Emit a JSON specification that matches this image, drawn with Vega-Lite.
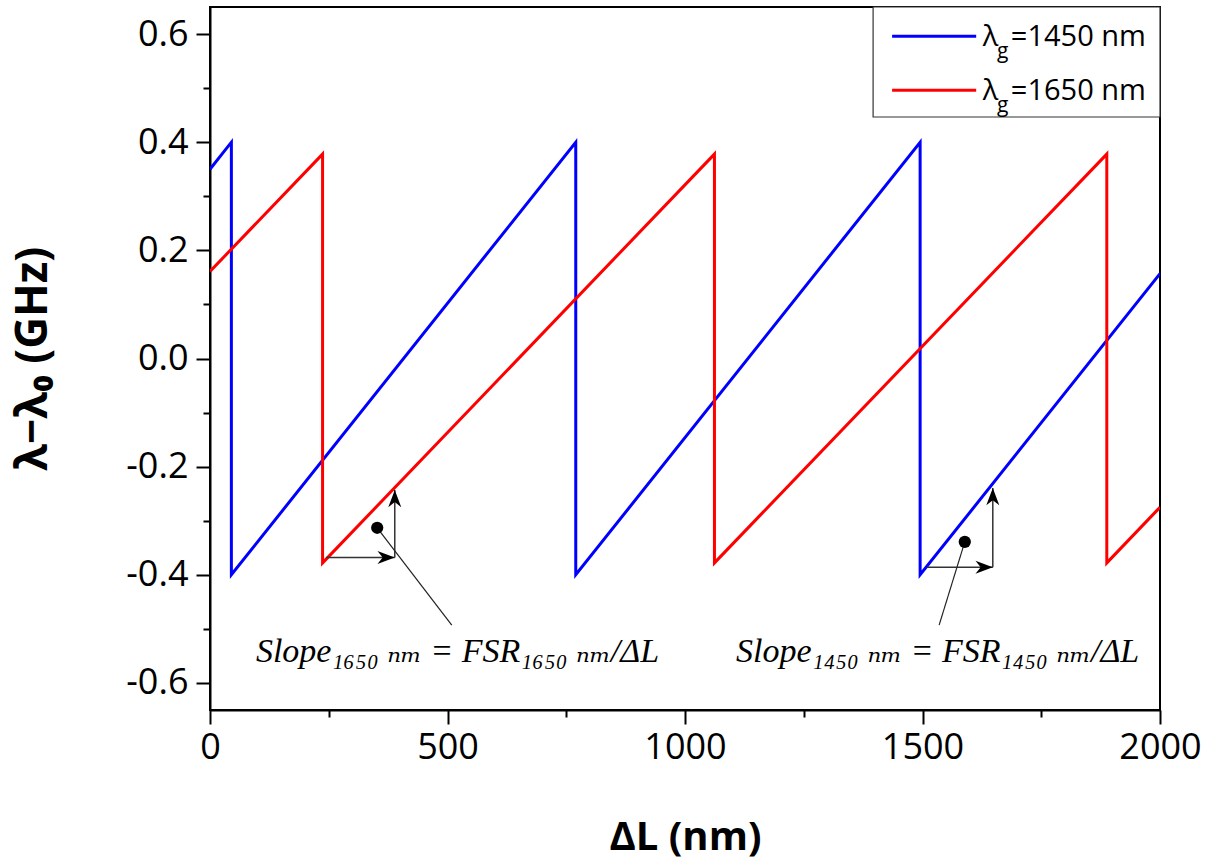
{
  "$schema": "https://vega.github.io/schema/vega-lite/v6.json",
  "width": 950,
  "height": 703,
  "autosize": {"type": "none"},
  "padding": {"left": 210, "top": 7, "right": 57, "bottom": 155},
  "background": "white",
  "config": {
    "view": {"stroke": "black", "strokeWidth": 2},
    "font": "Open Sans"
  },
  "datasets": {
    "lines": [
      {"series": "1450", "i": 0, "x": 0, "y": 0.35},
      {"series": "1450", "i": 1, "x": 45, "y": 0.40},
      {"series": "1450", "i": 2, "x": 45, "y": -0.40},
      {"series": "1450", "i": 3, "x": 770, "y": 0.40},
      {"series": "1450", "i": 4, "x": 770, "y": -0.40},
      {"series": "1450", "i": 5, "x": 1495, "y": 0.40},
      {"series": "1450", "i": 6, "x": 1495, "y": -0.40},
      {"series": "1450", "i": 7, "x": 2000, "y": 0.157},
      {"series": "1650", "i": 0, "x": 0, "y": 0.161},
      {"series": "1650", "i": 1, "x": 237, "y": 0.378},
      {"series": "1650", "i": 2, "x": 237, "y": -0.378},
      {"series": "1650", "i": 3, "x": 1062, "y": 0.378},
      {"series": "1650", "i": 4, "x": 1062, "y": -0.378},
      {"series": "1650", "i": 5, "x": 1888, "y": 0.378},
      {"series": "1650", "i": 6, "x": 1888, "y": -0.378},
      {"series": "1650", "i": 7, "x": 2000, "y": -0.275}
    ],
    "arrows": [
      {"x": 244, "y": -0.368, "x2": 389, "y2": -0.368},
      {"x": 389, "y": -0.368, "x2": 389, "y2": -0.243},
      {"x": 1509, "y": -0.386, "x2": 1648, "y2": -0.386},
      {"x": 1648, "y": -0.386, "x2": 1648, "y2": -0.2395}
    ],
    "heads": [
      {"x": 389, "y": -0.368, "dir": "right"},
      {"x": 389, "y": -0.243, "dir": "up"},
      {"x": 1648, "y": -0.386, "dir": "right"},
      {"x": 1648, "y": -0.2395, "dir": "up"}
    ],
    "leaders": [
      {"x": 352, "y": -0.313, "x2": 509, "y2": -0.493},
      {"x": 1589, "y": -0.339, "x2": 1535, "y2": -0.493}
    ],
    "dots": [
      {"x": 352, "y": -0.313},
      {"x": 1589, "y": -0.339}
    ],
    "notes": [
      {"x": 521, "y": -0.543, "t": "Slope₁₆₅₀ ₙₘ = FSR₁₆₅₀ ₙₘ/ΔL"},
      {"x": 1532, "y": -0.543, "t": "Slope₁₄₅₀ ₙₘ = FSR₁₄₅₀ ₙₘ/ΔL"}
    ],
    "legendBox": [
      {"x": 1396, "x2": 2000, "y": 0.4466, "y2": 0.65}
    ],
    "legendLines": [
      {"series": "1450", "x": 1436, "y": 0.596},
      {"series": "1450", "x": 1613, "y": 0.596},
      {"series": "1650", "x": 1436, "y": 0.496},
      {"series": "1650", "x": 1613, "y": 0.496}
    ],
    "legendText": [
      {"kind": "main", "x": 1627, "y": 0.578, "t": "λ"},
      {"kind": "sub", "x": 1657, "y": 0.556, "t": "g"},
      {"kind": "main", "x": 1686, "y": 0.578, "t": "=1450 nm"},
      {"kind": "main", "x": 1627, "y": 0.478, "t": "λ"},
      {"kind": "sub", "x": 1657, "y": 0.456, "t": "g"},
      {"kind": "main", "x": 1686, "y": 0.478, "t": "=1650 nm"}
    ]
  },
  "layer": [
    {
      "data": {"name": "lines"},
      "mark": {"type": "line", "strokeWidth": 3, "clip": true},
      "encoding": {
        "x": {
          "field": "x", "type": "quantitative",
          "scale": {"domain": [0, 2000], "nice": false, "zero": false},
          "axis": {
            "title": "ΔL (nm)",
            "titleFont": "Open Sans", "titleFontSize": 40, "titleFontWeight": "bold", "titleColor": "black",
            "titlePadding": 52,
            "values": [0, 250, 500, 750, 1000, 1250, 1500, 1750, 2000],
            "format": "d",
            "labelExpr": "datum.value % 500 == 0 ? format(datum.value, 'd') : ''",
            "labelFont": "Open Sans", "labelFontSize": 36, "labelColor": "black",
            "labelPadding": 6, "labelFlush": false, "labelOverlap": false,
            "tickSize": {"condition": {"test": "datum.value % 500 != 0", "value": 7}, "value": 14},
            "tickWidth": 2, "tickColor": "black",
            "domainColor": "black", "domainWidth": 2, "grid": false
          }
        },
        "y": {
          "field": "y", "type": "quantitative",
          "scale": {"domain": [-0.65, 0.65], "nice": false, "zero": false},
          "axis": {
            "title": "λ−λ₀ (GHz)",
            "titleFont": "Open Sans", "titleFontSize": 44, "titleFontWeight": "bold", "titleColor": "black",
            "titlePadding": 70,
            "values": [-0.6, -0.5, -0.4, -0.3, -0.2, -0.1, 0, 0.1, 0.2, 0.3, 0.4, 0.5, 0.6],
            "labelExpr": "abs(round(datum.value*10)) % 2 == 1 ? '' : (datum.value < -0.001 ? '-' : '') + format(abs(datum.value), '.1f')",
            "labelFont": "Open Sans", "labelFontSize": 36, "labelColor": "black",
            "labelPadding": 8, "labelOverlap": false,
            "tickSize": {"condition": {"test": "abs(round(datum.value*10)) % 2 == 1", "value": 7}, "value": 14},
            "tickWidth": 2, "tickColor": "black",
            "domainColor": "black", "domainWidth": 2, "grid": false
          }
        },
        "color": {
          "field": "series", "type": "nominal",
          "scale": {"domain": ["1450", "1650"], "range": ["#0000ff", "#ff0000"]},
          "legend": null
        },
        "order": {"field": "i", "type": "quantitative"}
      }
    },
    {
      "data": {"name": "arrows"},
      "mark": {"type": "rule", "color": "#333333", "strokeWidth": 1.5},
      "encoding": {
        "x": {"field": "x", "type": "quantitative"},
        "y": {"field": "y", "type": "quantitative"},
        "x2": {"field": "x2"},
        "y2": {"field": "y2"}
      }
    },
    {
      "data": {"name": "heads"},
      "mark": {"type": "point", "filled": true, "color": "black", "opacity": 1, "size": 300},
      "encoding": {
        "x": {"field": "x", "type": "quantitative"},
        "y": {"field": "y", "type": "quantitative"},
        "shape": {
          "field": "dir", "type": "nominal",
          "scale": {"domain": ["right", "up"], "range": ["M0,0L-2,-0.75L-1.4,0L-2,0.75Z", "M0,0L-0.75,2L0,1.4L0.75,2Z"]},
          "legend": null
        }
      }
    },
    {
      "data": {"name": "leaders"},
      "mark": {"type": "rule", "color": "#222222", "strokeWidth": 1.2},
      "encoding": {
        "x": {"field": "x", "type": "quantitative"},
        "y": {"field": "y", "type": "quantitative"},
        "x2": {"field": "x2"},
        "y2": {"field": "y2"}
      }
    },
    {
      "data": {"name": "dots"},
      "mark": {"type": "point", "shape": "circle", "filled": true, "color": "black", "opacity": 1, "size": 150},
      "encoding": {
        "x": {"field": "x", "type": "quantitative"},
        "y": {"field": "y", "type": "quantitative"}
      }
    },
    {
      "data": {"name": "notes"},
      "mark": {"type": "text", "font": "Liberation Serif, DejaVu Serif", "fontStyle": "italic", "fontSize": 34, "color": "black", "align": "center", "baseline": "middle"},
      "encoding": {
        "x": {"field": "x", "type": "quantitative"},
        "y": {"field": "y", "type": "quantitative"},
        "text": {"field": "t"}
      }
    },
    {
      "data": {"name": "legendBox"},
      "mark": {"type": "rect", "fill": "white", "stroke": "#333333", "strokeWidth": 1.2},
      "encoding": {
        "x": {"field": "x", "type": "quantitative"},
        "x2": {"field": "x2"},
        "y": {"field": "y", "type": "quantitative"},
        "y2": {"field": "y2"}
      }
    },
    {
      "data": {"name": "legendLines"},
      "mark": {"type": "line", "strokeWidth": 3},
      "encoding": {
        "x": {"field": "x", "type": "quantitative"},
        "y": {"field": "y", "type": "quantitative"},
        "color": {"field": "series", "type": "nominal", "legend": null}
      }
    },
    {
      "data": {"name": "legendText"},
      "transform": [{"filter": "datum.kind == 'main'"}],
      "mark": {"type": "text", "font": "Open Sans", "fontSize": 29, "color": "black", "align": "left", "baseline": "alphabetic"},
      "encoding": {
        "x": {"field": "x", "type": "quantitative"},
        "y": {"field": "y", "type": "quantitative"},
        "text": {"field": "t"}
      }
    },
    {
      "data": {"name": "legendText"},
      "transform": [{"filter": "datum.kind == 'sub'"}],
      "mark": {"type": "text", "font": "Open Sans", "fontSize": 21, "color": "black", "align": "left", "baseline": "alphabetic"},
      "encoding": {
        "x": {"field": "x", "type": "quantitative"},
        "y": {"field": "y", "type": "quantitative"},
        "text": {"field": "t"}
      }
    }
  ]
}
